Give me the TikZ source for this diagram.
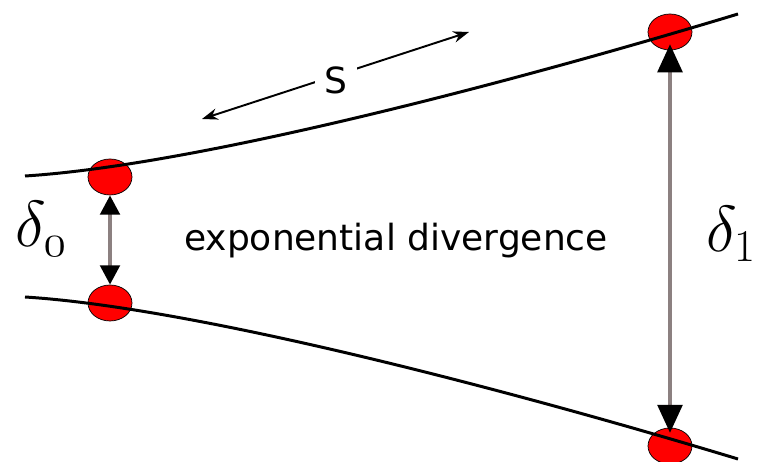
\documentclass[tikz,border=0pt]{standalone}
\usepackage{fix-cm}
\usepackage{fontspec}
\newfontfamily\labelfont{DejaVu Sans}
\usetikzlibrary{positioning,arrows.meta,shapes.geometric}
\definecolor{stemgray}{RGB}{140,128,128}

\begin{document}
\begin{tikzpicture}[
    x=0.02cm, y=-0.02cm,
    >=Stealth,
    traj/.style={line width=1.7pt},
    dot/.style={ellipse, draw=black, line width=0.4pt, fill=red, inner sep=0pt, minimum width=0.88cm, minimum height=0.72cm},
    gap/.style={draw=stemgray, line width=2.3pt},
    gapsmall/.style={gap, {Triangle[color=black, length=11pt, width=11pt]}-{Triangle[color=black, length=11pt, width=11pt]}},
    gapbig/.style={gap, {Triangle[color=black, length=16pt, width=14pt]}-{Triangle[color=black, length=16pt, width=14pt]}},
    arclen/.style={{Stealth[length=9pt, width=6.5pt]}-{Stealth[length=9pt, width=6.5pt]}, line width=1.1pt},
    caption/.style={font=\labelfont\fontsize{20.5}{24}\selectfont, inner sep=0pt},
    delta/.style={font=\fontsize{37}{44}\selectfont, inner sep=0pt}
]
\useasboundingbox (0,0) rectangle (762,462);

% points on the two trajectories
\node[dot] (p0) at (110,177) {};
\node[dot] (q0) at (110,303) {};
\node[dot] (p1) at (670,32) {};
\node[dot] (q1) at (670,446) {};

% trajectories
\coordinate (ua) at (25,176);
\coordinate (ub) at (738,14);
\coordinate (la) at (25,297);
\coordinate (lb) at (738,459);
\draw[traj] (ua) .. controls (200,165) and (520,80) .. (ub);
\draw[traj] (la) .. controls (200,308) and (520,393) .. (lb);

% separations
\draw[gapsmall] (p0.south) -- (q0.north);
\draw[gapbig, shorten <=-3.5pt, shorten >=-3pt] (p1.south) -- (q1.north);

% arc length along the upper trajectory
\coordinate (sa) at (202,119);
\coordinate (sb) at (469,32);
\draw[arclen] (sa) -- (sb);
\node[caption, fill=white, inner sep=5.5pt] (slen) at (336,80) {S};

% labels
\node[delta] (d0) at (41,229) {$\delta_{\mathnormal{0}}$};
\node[delta] (d1) at (731,234) {$\delta_1$};
\node[caption] (div) at (396,241) {exponential divergence};
\end{tikzpicture}
\end{document}
